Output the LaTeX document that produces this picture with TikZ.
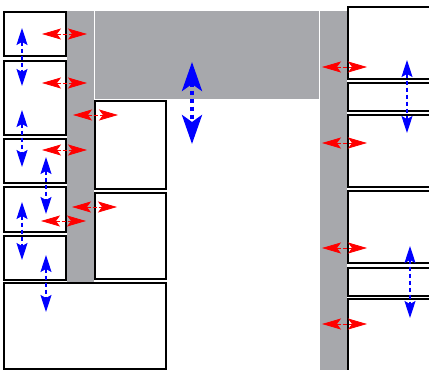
\documentclass[tikz,border=0pt]{standalone}
\usetikzlibrary{arrows.meta}
\definecolor{panelgray}{RGB}{167,168,172}
\tikzset{
  box/.style={draw=black, fill=white, line width=1.1pt, inner sep=0pt, outer sep=0pt, anchor=north west},
  band/.style={fill=panelgray, draw=none},
  redtip/.tip={Stealth[length=19pt,width=11pt,inset=4pt]},
  bluetip/.tip={Stealth[length=17pt,width=11pt,inset=3pt]},
  bigtip/.tip={Stealth[length=29pt,width=20pt,inset=7pt]},
  redlink/.style={draw=red, line width=0.8pt, dash pattern=on 4pt off 2pt, redtip-redtip},
  bluelink/.style={draw=blue, line width=1.3pt, dash pattern=on 4pt off 3pt, bluetip-bluetip},
  biglink/.style={draw=blue, line width=4pt, dash pattern=on 4pt off 4pt, bigtip-bigtip}
}
\newcommand{\blk}[5]{\node[box, minimum width=#4pt, minimum height=#5pt] (#1) at (#2,#3) {};}
\begin{document}
\begin{tikzpicture}[x=1pt, y=-1pt]
\useasboundingbox (0,0) rectangle (429,370);
\clip (0,0) rectangle (429,370);
\fill[white] (0,0) rectangle (429,370);

% grey corridors
\fill[band] (67,11) rectangle (94,283);
\fill[band] (95,11) rectangle (319,99);
\fill[band] (320,11) rectangle (347,372);

% left column
\blk{L1}{4}{12}{62}{44}
\blk{L2}{4}{61}{62}{74}
\blk{L3}{4}{139}{62}{44}
\blk{L4}{4}{187}{62}{45}
\blk{L5}{4}{236}{62}{44}
\blk{L6}{4}{283}{162}{86}
% middle column
\blk{M1}{95}{101}{71}{88}
\blk{M2}{95}{193}{71}{86}
% right column
\blk{R1}{348}{7}{90}{72}
\blk{R2}{348}{83}{90}{28}
\blk{R3}{348}{115}{90}{72}
\blk{R4}{348}{191}{90}{72}
\blk{R5}{348}{268}{90}{28}
\blk{R6}{348}{299}{90}{80}

% horizontal red links
\coordinate (ra1) at (42,34);   \coordinate (rb1) at (87,34);
\coordinate (ra2) at (42,83);   \coordinate (rb2) at (87,83);
\coordinate (ra3) at (73,115);  \coordinate (rb3) at (118,115);
\coordinate (ra4) at (42,150);  \coordinate (rb4) at (87,150);
\coordinate (ra5) at (72,207);  \coordinate (rb5) at (117,207);
\coordinate (ra6) at (41,221);  \coordinate (rb6) at (86,221);
\coordinate (ra7) at (322,67);  \coordinate (rb7) at (367,67);
\coordinate (ra8) at (322,143); \coordinate (rb8) at (367,143);
\coordinate (ra9) at (322,248); \coordinate (rb9) at (367,248);
\coordinate (ra10) at (322,324); \coordinate (rb10) at (367,324);
\foreach \i in {1,...,10} \draw[redlink] (ra\i) -- (rb\i);

% vertical blue links
\coordinate (ba1) at (22,28);  \coordinate (bb1) at (22,86);
\coordinate (ba2) at (22,110); \coordinate (bb2) at (22,167);
\coordinate (ba3) at (22,202); \coordinate (bb3) at (22,260);
\coordinate (ba4) at (46,157); \coordinate (bb4) at (46,214);
\coordinate (ba5) at (46,255); \coordinate (bb5) at (46,312);
\coordinate (ba6) at (407,60); \coordinate (bb6) at (407,133);
\coordinate (ba7) at (410,246); \coordinate (bb7) at (410,318);
\foreach \i in {1,...,7} \draw[bluelink] (ba\i) -- (bb\i);

% main vertical link
\coordinate (ma) at (192,62); \coordinate (mb) at (192,144);
\draw[biglink] (ma) -- (mb);
\end{tikzpicture}
\end{document}
